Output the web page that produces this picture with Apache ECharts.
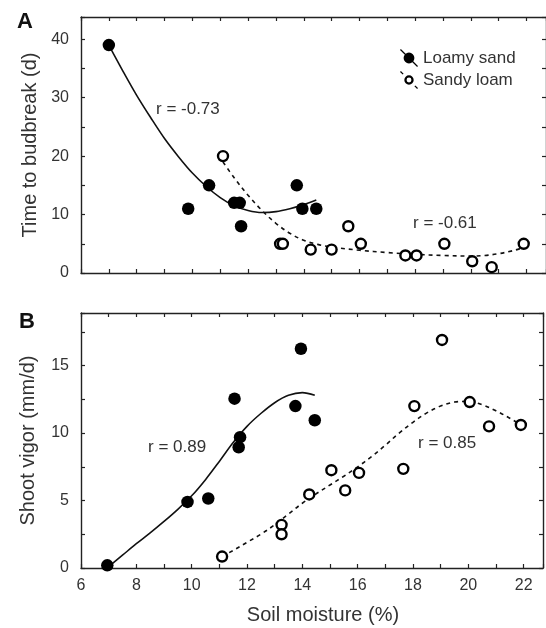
<!DOCTYPE html>
<html>
<head>
<meta charset="utf-8">
<script src="https://cdn.jsdelivr.net/npm/echarts@6/dist/echarts.min.js"></script>
<style>
  html, body { margin: 0; padding: 0; background: #fff; }
  #chart { width: 546px; height: 628px; }
</style>
</head>
<body>
<div id="chart"></div>
<script>
// 坐标轴刻度
var xTickValues = [6, 8, 10, 12, 14, 16, 18, 20, 22];
var yTicksA = [0, 10, 20, 30, 40];
var yTicksB = [0, 5, 10, 15];

// A: Time to budbreak (d)
var loamyAX = [7.0, 9.85, 10.6, 11.5, 11.7, 11.75, 13.75, 13.95, 14.45];
var loamyAY = [39, 11, 15, 12, 12, 8, 15, 11, 11];
var sandyAX = [11.1, 13.15, 13.25, 14.25, 15.0, 15.6, 16.05, 17.65, 18.05, 19.05, 20.05, 20.75, 21.9];
var sandyAY = [20, 5, 5, 4, 4, 8, 5, 3, 3, 5, 2, 1, 5];
// 拟合曲线
var loamyFitAX = [7.0, 7.5, 8.0, 8.5, 9.0, 9.5, 10.0, 10.5, 11.0, 11.5, 12.0, 12.5, 13.0, 13.5, 14.0, 14.45];
var loamyFitAY = [39, 34.6, 30.4, 26.6, 23.0, 19.9, 17.1, 14.8, 12.9, 11.5, 10.7, 10.35, 10.5, 11.0, 11.7, 12.5];
var sandyFitAX = [11.1, 11.5, 12.0, 12.5, 13.0, 13.5, 14.0, 14.5, 15.0, 16.0, 17.0, 18.0, 19.0, 20.0, 20.5, 21.0, 21.5, 21.85];
var sandyFitAY = [19.0, 16.3, 13.3, 10.7, 8.5, 6.8, 5.6, 4.9, 4.45, 3.9, 3.5, 3.2, 3.0, 2.9, 3.0, 3.3, 3.8, 4.3];

// B: Shoot vigor (mm/d)
var loamyBX = [6.95, 9.85, 10.6, 11.55, 11.75, 11.7, 13.95, 13.75, 14.45];
var loamyBY = [0.2, 4.9, 5.15, 12.55, 9.7, 8.95, 16.25, 12.0, 10.95];
var sandyBX = [11.1, 13.25, 13.25, 14.25, 15.05, 15.55, 16.05, 17.65, 18.05, 19.05, 20.05, 20.75, 21.9];
var sandyBY = [0.85, 3.2, 2.5, 5.45, 7.25, 5.75, 7.05, 7.35, 12.0, 16.9, 12.3, 10.5, 10.6];
var loamyFitBX = [7.0, 7.5, 8.0, 8.5, 9.0, 9.5, 10.0, 10.5, 11.0, 11.5, 12.0, 12.5, 13.0, 13.5, 14.0, 14.45];
var loamyFitBY = [0.1, 0.95, 1.8, 2.6, 3.45, 4.35, 5.35, 6.55, 7.9, 9.3, 10.5, 11.45, 12.25, 12.8, 13.0, 12.8];
var sandyFitBX = [11.1, 11.5, 12.0, 12.5, 13.0, 13.5, 14.0, 14.5, 15.0, 15.5, 16.0, 16.5, 17.0, 17.5, 18.0, 18.5, 19.0, 19.5, 20.0, 20.5, 21.0, 21.5, 21.85];
var sandyFitBY = [0.85, 1.3, 1.9, 2.5, 3.2, 4.0, 4.8, 5.5, 6.15, 6.8, 7.5, 8.25, 9.1, 10.0, 10.8, 11.5, 12.0, 12.3, 12.35, 12.1, 11.65, 11.1, 10.67];

function zip(xs, ys) {
    return xs.map(function (x, i) { return [x, ys[i]]; });
}

var font = "'Liberation Sans', Arial, sans-serif";
var ink = '#222';
var textColor = '#333';

// 通用坐标轴样式
function axisBase(extra) {
    var base = {
        type: 'value',
        axisLine: { show: true, onZero: false, lineStyle: { color: ink, width: 1.4 } },
        axisTick: { show: true, inside: true, length: 4, lineStyle: { color: ink, width: 1.2 } },
        splitLine: { show: false },
        axisLabel: { show: false }
    };
    for (var k in extra) base[k] = extra[k];
    return base;
}

function onlyIn(list) {
    return function (v) { return list.indexOf(Math.round(v * 100) / 100) >= 0 ? String(v) : ''; };
}

var xRange = { min: 6, max: 22.7, interval: 1 };

var xAxes = [
    axisBase({ gridIndex: 0, position: 'bottom', min: xRange.min, max: xRange.max, interval: xRange.interval }),
    axisBase({ gridIndex: 0, position: 'top', min: xRange.min, max: xRange.max, interval: xRange.interval }),
    axisBase({
        gridIndex: 1, position: 'bottom', min: xRange.min, max: xRange.max, interval: xRange.interval,
        axisLabel: { show: true, interval: 0, margin: 10, color: textColor, fontSize: 16, fontFamily: font, formatter: onlyIn(xTickValues) },
        name: 'Soil moisture (%)', nameLocation: 'middle', nameGap: 37,
        nameTextStyle: { color: textColor, fontSize: 20, fontFamily: font, padding: [0, 0, 0, 22] }
    }),
    axisBase({ gridIndex: 1, position: 'top', min: xRange.min, max: xRange.max, interval: xRange.interval })
];

var yAxes = [
    axisBase({
        gridIndex: 0, position: 'left', min: 0, max: 43.8, interval: 5,
        axisLabel: { show: true, margin: 12, color: textColor, fontSize: 16, fontFamily: font, formatter: onlyIn(yTicksA) },
        name: 'Time to budbreak (d)', nameLocation: 'middle', nameGap: 38,
        nameTextStyle: { color: textColor, fontSize: 20, fontFamily: font }
    }),
    axisBase({ gridIndex: 0, position: 'right', min: 0, max: 43.8, interval: 5 }),
    axisBase({
        gridIndex: 1, position: 'left', min: 0, max: 18.9, interval: 2.5,
        axisLabel: { show: true, margin: 12, color: textColor, fontSize: 16, fontFamily: font, formatter: onlyIn(yTicksB) },
        name: 'Shoot vigor (mm/d)', nameLocation: 'middle', nameGap: 43,
        nameTextStyle: { color: textColor, fontSize: 20, fontFamily: font }
    }),
    axisBase({ gridIndex: 1, position: 'right', min: 0, max: 18.9, interval: 2.5 })
];

function filled(name, data, xi, yi) {
    return {
        name: name, type: 'scatter', xAxisIndex: xi, yAxisIndex: yi, data: data,
        symbol: 'circle', symbolSize: 12.5, z: 5,
        itemStyle: { color: '#000', opacity: 1 }
    };
}
function hollow(name, data, xi, yi) {
    return {
        name: name, type: 'scatter', xAxisIndex: xi, yAxisIndex: yi, data: data,
        symbol: 'circle', symbolSize: 10, z: 5,
        itemStyle: { color: '#fff', borderColor: '#000', borderWidth: 2.4, opacity: 1 }
    };
}
function fit(name, data, xi, yi, dashed) {
    return {
        name: name, type: 'line', xAxisIndex: xi, yAxisIndex: yi, data: data,
        showSymbol: false, smooth: 0.35, z: 3, silent: true,
        lineStyle: { color: '#111', width: 1.6, type: dashed ? [4, 4] : 'solid' }
    };
}

var loamyIcon = 'path://M0,1 L1,0 L20,19 L19,20 Z M4,10 A6,6 0 1,1 16,10 A6,6 0 1,1 4,10 Z';
var sandyIcon = 'path://M0,1 L1,0 L4,3 L3,4 Z M16,17 L17,16 L20,19 L19,20 Z M4.8,10 A5.2,5.2 0 1,1 15.2,10 A5.2,5.2 0 1,1 4.8,10 Z M7.3,10 A2.7,2.7 0 1,0 12.7,10 A2.7,2.7 0 1,0 7.3,10 Z';

var myChart = echarts.init(document.getElementById('chart'), null, { renderer: 'canvas' });
var option = {
    animation: false,
    backgroundColor: '#fff',
    grid: [
        { left: 81, top: 17, width: 467, height: 256 },
        { left: 81, top: 313, width: 467, height: 255 }
    ],
    xAxis: xAxes,
    yAxis: yAxes,
    legend: {
        orient: 'vertical', left: 395, top: 44, itemGap: 4,
        itemWidth: 18, itemHeight: 18,
        textStyle: { color: textColor, fontSize: 17, fontFamily: font },
        data: [
            { name: 'Loamy sand', icon: loamyIcon, itemStyle: { color: '#000', borderWidth: 0 } },
            { name: 'Sandy loam', icon: sandyIcon, itemStyle: { color: '#000', borderWidth: 0 } }
        ]
    },
    graphic: [
        { type: 'text', left: 17, top: 11, style: { text: 'A', fontSize: 22, fontWeight: 'bold', fontFamily: font, fill: '#111' } },
        { type: 'text', left: 19, top: 311, style: { text: 'B', fontSize: 22, fontWeight: 'bold', fontFamily: font, fill: '#111' } },
        { type: 'text', left: 156, top: 101, style: { text: 'r = -0.73', fontSize: 17, fontFamily: font, fill: textColor } },
        { type: 'text', left: 413, top: 215, style: { text: 'r = -0.61', fontSize: 17, fontFamily: font, fill: textColor } },
        { type: 'text', left: 148, top: 439, style: { text: 'r = 0.89', fontSize: 17, fontFamily: font, fill: textColor } },
        { type: 'text', left: 418, top: 435, style: { text: 'r = 0.85', fontSize: 17, fontFamily: font, fill: textColor } }
    ],
    series: [
        fit('Loamy fit A', zip(loamyFitAX, loamyFitAY), 0, 0, false),
        fit('Sandy fit A', zip(sandyFitAX, sandyFitAY), 0, 0, true),
        filled('Loamy sand', zip(loamyAX, loamyAY), 0, 0),
        hollow('Sandy loam', zip(sandyAX, sandyAY), 0, 0),
        fit('Loamy fit B', zip(loamyFitBX, loamyFitBY), 2, 2, false),
        fit('Sandy fit B', zip(sandyFitBX, sandyFitBY), 2, 2, true),
        filled('Loamy sand', zip(loamyBX, loamyBY), 2, 2),
        hollow('Sandy loam', zip(sandyBX, sandyBY), 2, 2)
    ]
};
myChart.setOption(option);
</script>
</body>
</html>
